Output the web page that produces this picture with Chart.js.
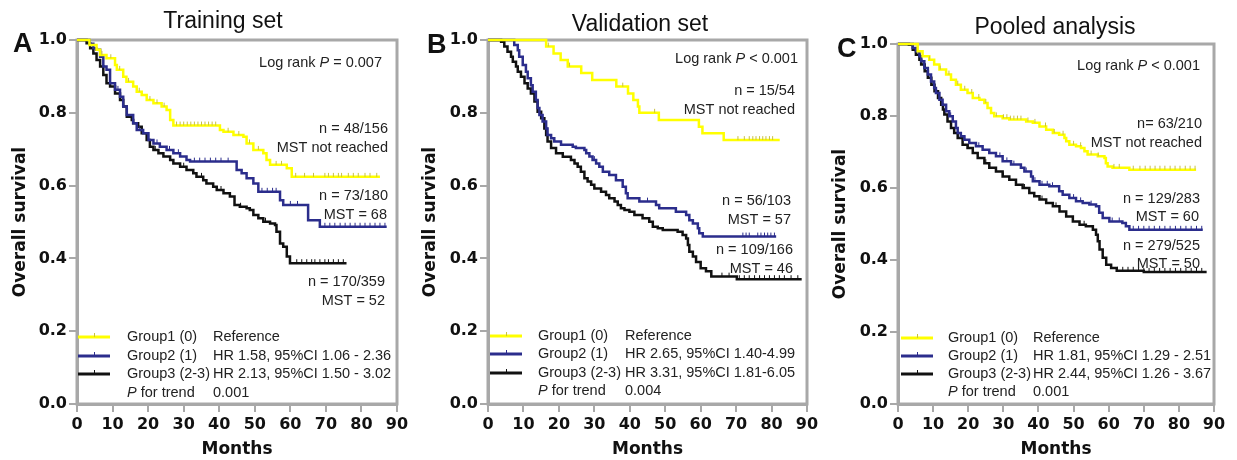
<!DOCTYPE html>
<html>
<head>
<meta charset="utf-8">
<script src="https://cdn.jsdelivr.net/npm/chart.js@4.4.0/dist/chart.umd.min.js"></script>
<style>
  html, body { margin: 0; padding: 0; background: #fff; }
  #wrap { position: relative; width: 1237px; height: 460px; overflow: hidden; }
  #wrap canvas { position: absolute; top: 0; }
</style>
</head>
<body>
<div id="wrap">
  <canvas id="chartA" width="412" height="460" style="left:0"></canvas>
  <canvas id="chartB" width="412" height="460" style="left:412px"></canvas>
  <canvas id="chartC" width="413" height="460" style="left:824px"></canvas>
</div>
<script>
// ---- data: Kaplan-Meier steps, [month, survival] ----
const xTickLabels = ["0", "10", "20", "30", "40", "50", "60", "70", "80", "90"];
const yTickLabels = ["0.0", "0.2", "0.4", "0.6", "0.8", "1.0"];

// Training set
const trainG1 = [[0,1],[2.2,1],[3.5,0.986],[5.5,0.973],[6.5,0.959],[8.3,0.95],[10.7,0.931],[11.2,0.918],[13,0.899],[13.9,0.885],[15.8,0.872],[16.8,0.858],[18.2,0.849],[19.6,0.835],[21.5,0.826],[23.8,0.817],[25.2,0.808],[26.2,0.78],[27.1,0.765],[40.2,0.753],[41.2,0.748],[44,0.739],[46.8,0.734],[47.7,0.716],[49.6,0.698],[52.4,0.689],[53.3,0.67],[54.3,0.657],[59,0.648],[60.4,0.624],[85.2,0.624]];
const trainG2 = [[0,1],[3.5,0.99],[4.6,0.977],[5.4,0.973],[6.5,0.954],[7.4,0.927],[8.3,0.918],[9.3,0.881],[10.7,0.863],[12.1,0.844],[13,0.817],[14,0.794],[15.8,0.771],[16.8,0.753],[18.6,0.744],[20.1,0.725],[21.5,0.716],[23.3,0.707],[25.2,0.698],[27.1,0.689],[29,0.68],[30.8,0.67],[31.8,0.666],[44.9,0.643],[46.3,0.634],[47.7,0.62],[49.6,0.606],[51,0.583],[57.1,0.56],[58,0.547],[65,0.505],[68.3,0.487],[87.1,0.487]];
const trainG3 = [[0,1],[1.8,1],[2.7,0.991],[3.7,0.977],[4.6,0.963],[5.5,0.945],[6.5,0.927],[7.4,0.904],[8.3,0.881],[9.3,0.872],[10.7,0.853],[12.1,0.835],[13,0.817],[14,0.789],[15.4,0.78],[15.8,0.771],[17.2,0.762],[18.2,0.744],[19.6,0.725],[20.5,0.707],[21.5,0.698],[22.9,0.689],[24.3,0.68],[26.2,0.67],[27.1,0.661],[29,0.652],[30.8,0.643],[32.7,0.634],[33.6,0.624],[35.5,0.615],[36.4,0.606],[38.3,0.597],[39.3,0.588],[41.2,0.579],[43,0.57],[44.3,0.547],[45.8,0.542],[47.7,0.538],[48.6,0.533],[49.6,0.519],[51,0.51],[52.4,0.501],[54.3,0.496],[55.7,0.492],[56.1,0.473],[57.1,0.441],[58,0.432],[59,0.405],[59.9,0.387],[75.8,0.387]];
const trainCens1 = [7,9.5,12,14.5,17.5,20.5,22.5,24.5,28,29,30,31,32,33,34,35,36,37,38,39,42.5,45.5,48.5,51,56,57.5,61.5,64,66.5,69.7,70.7,72.1,73.5,74.4,76.3,77.7,79.1,81,82.4,84.3];
const trainCens2 = [11.5,17.5,22.5,26,28.5,33,34.5,36,37.5,39,40.5,42.5,52,53.5,55,56,60,62,69.7,71.1,72.5,74,75.4,76.8,78.2,79.6,81,82.4,83.8,85.2,86.6];
const trainCens3 = [22,30,35,40.5,46,53,61.8,63.2,64.6,66,66.9,68.3,69.7,70.7,72.1,73.5,74.9];

// Validation set
const validG1 = [[0,1],[16.4,0.982],[18.5,0.963],[20.5,0.945],[22.5,0.927],[26.3,0.909],[29.4,0.89],[36.2,0.872],[39.5,0.853],[41,0.835],[42.3,0.817],[42.7,0.8],[48.2,0.78],[59.5,0.762],[60.5,0.744],[66.5,0.725],[82.3,0.725]];
const validG2 = [[0,1],[7,1],[7.4,0.986],[8.4,0.972],[8.8,0.954],[9.8,0.931],[10.7,0.913],[11.2,0.895],[12.1,0.876],[12.6,0.858],[13.5,0.835],[14,0.813],[14.5,0.794],[15.4,0.776],[16.4,0.757],[16.8,0.739],[17.8,0.73],[18.7,0.721],[20.6,0.712],[23.9,0.707],[24.8,0.703],[27.2,0.698],[27.7,0.689],[28.6,0.68],[29.5,0.67],[30.5,0.661],[31.4,0.652],[32.4,0.638],[34.2,0.629],[36.1,0.615],[38,0.597],[38.9,0.579],[39.4,0.565],[42.7,0.556],[47.4,0.547],[48.3,0.538],[53,0.528],[55.9,0.519],[56.8,0.505],[57.8,0.496],[59.2,0.483],[59.6,0.469],[60.6,0.46],[81.3,0.46]];
const validG3 = [[0,1],[2.3,1],[3.7,0.995],[4.6,0.982],[5.5,0.968],[6.5,0.954],[7,0.94],[7.9,0.927],[8.4,0.913],[9.3,0.899],[10.3,0.881],[11.2,0.867],[12.1,0.853],[13.1,0.831],[14,0.803],[15,0.785],[15.9,0.757],[16.4,0.739],[16.8,0.721],[17.8,0.703],[19.2,0.689],[21.1,0.679],[23.4,0.67],[24.4,0.661],[25.3,0.652],[26.2,0.638],[27.2,0.62],[28.1,0.611],[29.1,0.602],[30,0.592],[31.9,0.583],[33.3,0.574],[34.2,0.565],[35.7,0.556],[36.6,0.547],[37.5,0.538],[38.5,0.533],[39.9,0.528],[41.3,0.519],[43.6,0.51],[45.5,0.501],[46.5,0.487],[47.9,0.483],[49.3,0.478],[53.5,0.473],[54.9,0.464],[55.9,0.455],[56.4,0.437],[56.8,0.418],[57.8,0.405],[58.7,0.39],[60,0.373],[61.5,0.365],[63,0.35],[70.2,0.343],[88.5,0.343]];
const validCens1 = [17,23,38,47,70.5,72.3,73.7,74.7,75.6,76.6,77.5,78.4,79.4,80.3];
const validCens2 = [30,45,71.9,72.8,73.7,76.1,77,78,78.9,79.8,80.8];
const validCens3 = [66,68,70.9,72.3,73.7,75.2,76.6,78,79.4,80.8,82.2,83.6,85.5,87.4];

// Pooled analysis
const pooledG1 = [[0,1],[4,1],[5.6,0.98],[7,0.966],[8.9,0.956],[10.3,0.943],[11.8,0.929],[13.7,0.915],[15.1,0.901],[16.5,0.887],[17.9,0.873],[19.8,0.864],[21.3,0.85],[23.2,0.845],[24.6,0.836],[25.5,0.822],[26.5,0.808],[27.4,0.799],[29.8,0.794],[31.7,0.79],[36.5,0.785],[38.4,0.781],[40.3,0.771],[42.2,0.762],[44.1,0.753],[45.9,0.748],[47.4,0.739],[47.9,0.73],[48.8,0.72],[50.7,0.716],[52.1,0.711],[53.1,0.702],[54,0.693],[56.9,0.688],[58.8,0.683],[59.2,0.669],[59.7,0.66],[61.1,0.656],[65.9,0.651],[84.9,0.651]];
const pooledG2 = [[0,1],[3,1],[4.2,0.989],[5.1,0.98],[6.1,0.966],[6.6,0.952],[7.5,0.933],[8.5,0.915],[9.4,0.896],[10.3,0.878],[10.8,0.864],[11.8,0.845],[12.7,0.831],[13.7,0.813],[14.6,0.799],[15.6,0.785],[16.5,0.767],[17,0.753],[17.9,0.744],[18.9,0.734],[20.3,0.725],[22.2,0.716],[24.1,0.706],[26,0.697],[27.9,0.688],[29.8,0.674],[32.2,0.665],[35,0.656],[36,0.646],[37.9,0.632],[38.4,0.619],[40.3,0.609],[43.1,0.605],[45.9,0.591],[46.9,0.581],[48.8,0.572],[50.7,0.563],[52.6,0.558],[54.5,0.554],[56.4,0.549],[57.3,0.531],[58.3,0.517],[60.2,0.507],[63.9,0.503],[64.9,0.494],[65.9,0.484],[86.8,0.484]];
const pooledG3 = [[0,1],[2,1],[3.1,0.998],[4.2,0.984],[5.1,0.97],[6.1,0.956],[6.6,0.943],[7.6,0.924],[8.5,0.906],[9.5,0.887],[10.4,0.869],[11.4,0.85],[12.3,0.831],[12.8,0.818],[13.2,0.804],[14.1,0.785],[15.1,0.767],[16,0.753],[17,0.739],[18.4,0.72],[19.8,0.711],[21.3,0.697],[22.7,0.683],[24.6,0.669],[26,0.656],[27.9,0.646],[29.8,0.632],[31.7,0.623],[33.6,0.609],[35.5,0.6],[37.4,0.586],[38.8,0.577],[40.3,0.568],[42.2,0.558],[44.1,0.549],[46,0.535],[47.9,0.521],[49.8,0.507],[51.7,0.498],[53.5,0.494],[55.5,0.484],[56.4,0.47],[56.9,0.452],[57.4,0.429],[58.3,0.406],[59.3,0.387],[60.7,0.378],[62.3,0.37],[70,0.367],[87.9,0.367]];
const pooledCens1 = [9,12,14.5,17,19,21,23,25,28,30,31,32,33,34,35,37,39,42,44.5,47,50,52,55,57,61.5,63,67,68.9,70.4,71.8,73.2,74.6,76,77.5,78.9,80.3,81.8,83.2,84.6];
const pooledCens2 = [11,15,19,23,26,29,31,33,36.5,39,41,42.5,44,50,52,55,61,63,67,68.5,70,71.5,73,74.5,76,77.5,79,80.5,82,83.5,85,86.5];
const pooledCens3 = [20,25,30,36,41,45,53,62.5,64,65.5,67,68.5,70,71.5,73,74.5,76,77.5,79,80.5,82,83.5,85,86.5];

// texts
const trainNotes = ["Log rank *P* = 0.007", "n = 48/156", "MST not reached", "n = 73/180", "MST = 68", "n = 170/359", "MST = 52"];
const validNotes = ["Log rank *P* < 0.001", "n = 15/54", "MST not reached", "n = 56/103", "MST = 57", "n = 109/166", "MST = 46"];
const pooledNotes = ["Log rank *P* < 0.001", "n= 63/210", "MST not reached", "n = 129/283", "MST = 60", "n = 279/525", "MST = 50"];
const trainLegend = [["Group1 (0)", "Reference"], ["Group2 (1)", "HR 1.58, 95%CI 1.06 - 2.36"], ["Group3 (2-3)", "HR 2.13, 95%CI 1.50 - 3.02"], ["*P* for trend", "0.001"]];
const validLegend = [["Group1 (0)", "Reference"], ["Group2 (1)", "HR 2.65, 95%CI 1.40-4.99"], ["Group3 (2-3)", "HR 3.31, 95%CI 1.81-6.05"], ["*P* for trend", "0.004"]];
const pooledLegend = [["Group1 (0)", "Reference"], ["Group2 (1)", "HR 1.81, 95%CI 1.29 - 2.51"], ["Group3 (2-3)", "HR 2.44, 95%CI 1.26 - 3.67"], ["*P* for trend", "0.001"]];

// ---- styling / layout ----
const groupColors = ["#ffff00", "#2b2d8c", "#111111"];
const tickColors = ["#c8c040", "#2b2d8c", "#111111"];
const FRAME = "#a8a8a8";
const TEXT_FONT = '"Liberation Sans", Arial, sans-serif';
const AXIS_FONT = '"DejaVu Sans", sans-serif';

const panels = [
  {
    id: "chartA", left: 0, plot: { l: 77, r: 397, t: 40 }, yTitlePad: 10,
    letter: ["A", 13, 52], title: ["Training set", 223, 28],
    curves: [trainG1, trainG2, trainG3], censors: [trainCens1, trainCens2, trainCens3],
    notes: trainNotes, noteAt: [[382, 63], [388, 129], [388, 148], [388, 196], [387, 215], [385, 282], [385, 301]],
    legend: trainLegend, legendAt: { line: [78, 110], text: 127, col2: 213, rows: [337, 356, 374, 393] }
  },
  {
    id: "chartB", left: 412, plot: { l: 488, r: 807, t: 40 }, yTitlePad: 8,
    letter: ["B", 427, 53], title: ["Validation set", 640, 31],
    curves: [validG1, validG2, validG3], censors: [validCens1, validCens2, validCens3],
    notes: validNotes, noteAt: [[798, 59], [795, 91], [795, 110], [791, 201], [791, 220], [793, 250], [793, 269]],
    legend: validLegend, legendAt: { line: [490, 522], text: 538, col2: 625, rows: [336, 354, 373, 391] }
  },
  {
    id: "chartC", left: 824, plot: { l: 898, r: 1214, t: 44 }, yTitlePad: 6,
    letter: ["C", 837, 57], title: ["Pooled analysis", 1055, 34],
    curves: [pooledG1, pooledG2, pooledG3], censors: [pooledCens1, pooledCens2, pooledCens3],
    notes: pooledNotes, noteAt: [[1200, 66], [1202, 124], [1202, 143], [1200, 199], [1199, 217], [1200, 246], [1200, 264]],
    legend: pooledLegend, legendAt: { line: [901, 933], text: 948, col2: 1033, rows: [338, 356, 374, 392] }
  }
];

// survival value of a step curve at time t (for placing censor ticks on it)
function stepValue(curve, t) {
  let s = curve[0][1];
  for (const p of curve) {
    if (p[0] <= t) s = p[1]; else break;
  }
  return s;
}

// censor mark: short tick standing up from the curve
function censorMark(color) {
  const c = document.createElement("canvas");
  c.width = 3;
  c.height = 10;
  const g = c.getContext("2d");
  g.fillStyle = color;
  g.fillRect(1, 1, 1, 4);
  return c;
}

// text with *italic* parts
function drawRich(ctx, str, x, y, align, size) {
  const parts = str.split("*");
  const fontOf = i => (i % 2 ? "italic " : "") + size + "px " + TEXT_FONT;
  let w = 0;
  parts.forEach((p, i) => { ctx.font = fontOf(i); w += ctx.measureText(p).width; });
  let cx = align === "right" ? x - w : x;
  ctx.textAlign = "left";
  parts.forEach((p, i) => {
    ctx.font = fontOf(i);
    ctx.fillText(p, cx, y);
    cx += ctx.measureText(p).width;
  });
}

function decorPlugin(panel) {
  const L = panel.left;
  return {
    id: "decor",
    beforeDatasetsDraw(chart) {
      const { ctx, chartArea: a } = chart;
      ctx.save();
      ctx.strokeStyle = FRAME;
      ctx.lineWidth = 3;
      ctx.strokeRect(a.left, a.top, a.right - a.left, a.bottom - a.top);
      ctx.restore();
    },
    afterDraw(chart) {
      const ctx = chart.ctx;
      ctx.save();
      ctx.fillStyle = "#111";
      // panel letter
      ctx.font = "bold 27px " + TEXT_FONT;
      ctx.textAlign = "left";
      ctx.textBaseline = "alphabetic";
      ctx.fillText(panel.letter[0], panel.letter[1] - L, panel.letter[2]);
      // title
      ctx.font = "23px " + TEXT_FONT;
      ctx.textAlign = "center";
      ctx.fillText(panel.title[0], panel.title[1] - L, panel.title[2]);
      // notes
      ctx.fillStyle = "#222";
      ctx.textBaseline = "middle";
      panel.notes.forEach((t, i) => {
        drawRich(ctx, t, panel.noteAt[i][0] - L, panel.noteAt[i][1], "right", 14.5);
      });
      // legend
      const la = panel.legendAt;
      panel.legend.forEach((row, i) => {
        const y = la.rows[i];
        if (i < 3) {
          ctx.strokeStyle = groupColors[i];
          ctx.lineWidth = 3;
          ctx.beginPath();
          ctx.moveTo(la.line[0] - L, y);
          ctx.lineTo(la.line[1] - L, y);
          ctx.stroke();
          const mx = Math.round((la.line[0] + la.line[1]) / 2 - L) + 0.5;
          ctx.strokeStyle = tickColors[i];
          ctx.lineWidth = 1;
          ctx.beginPath();
          ctx.moveTo(mx, y - 4);
          ctx.lineTo(mx, y);
          ctx.stroke();
        }
        drawRich(ctx, row[0], la.text - L, y, "left", 14.5);
        drawRich(ctx, row[1], la.col2 - L, y, "left", 14.5);
      });
      ctx.restore();
    }
  };
}

function buildChart(panel) {
  const L = panel.left;
  const canvas = document.getElementById(panel.id);
  const yWidth = panel.plot.l - L;
  const padRight = canvas.width - (panel.plot.r - L);

  const lines = panel.curves.map((c, i) => ({
    data: c.map(p => ({ x: p[0], y: p[1] })),
    stepped: "before",
    borderColor: groupColors[i],
    borderWidth: 2.5,
    pointRadius: 0,
    fill: false,
    clip: 6
  }));
  const marks = panel.censors.map((c, i) => ({
    data: c.map(t => ({ x: t, y: stepValue(panel.curves[i], t) })),
    showLine: false,
    pointStyle: censorMark(tickColors[i]),
    pointRadius: 4,
    clip: 6
  }));

  return new Chart(canvas, {
    type: "line",
    data: { datasets: marks.concat(lines) },
    options: {
      responsive: false,
      animation: false,
      events: [],
      layout: { padding: { top: panel.plot.t, right: padRight, left: 0, bottom: 0 } },
      plugins: { legend: { display: false }, tooltip: { enabled: false }, title: { display: false } },
      scales: {
        x: {
          type: "linear", min: 0, max: 90,
          afterFit: s => { s.height = 56; },
          ticks: {
            stepSize: 10, autoSkip: false, maxRotation: 0, padding: 3, color: "#111",
            font: { family: AXIS_FONT, size: 16, weight: "bold" },
            callback: (v, i) => xTickLabels[i]
          },
          grid: { drawOnChartArea: false, drawTicks: true, tickLength: 8, color: FRAME, lineWidth: 2 },
          border: { color: FRAME, width: 3 },
          title: {
            display: true, text: "Months", color: "#111",
            font: { family: AXIS_FONT, size: 17, weight: "bold" },
            padding: { top: 0, bottom: 0 }
          }
        },
        y: {
          type: "linear", min: 0, max: 1,
          afterFit: s => { s.width = yWidth; },
          ticks: {
            stepSize: 0.2, padding: 2, color: "#111",
            font: { family: AXIS_FONT, size: 16, weight: "bold" },
            callback: (v, i) => yTickLabels[i]
          },
          grid: { drawOnChartArea: false, drawTicks: true, tickLength: 8, color: FRAME, lineWidth: 2 },
          border: { color: FRAME, width: 3 },
          title: {
            display: true, text: "Overall survival", color: "#111",
            font: { family: AXIS_FONT, size: 17, weight: "bold" },
            padding: { top: panel.yTitlePad, bottom: 0 }
          }
        }
      }
    },
    plugins: [decorPlugin(panel)]
  });
}

panels.forEach(buildChart);
</script>
</body>
</html>
